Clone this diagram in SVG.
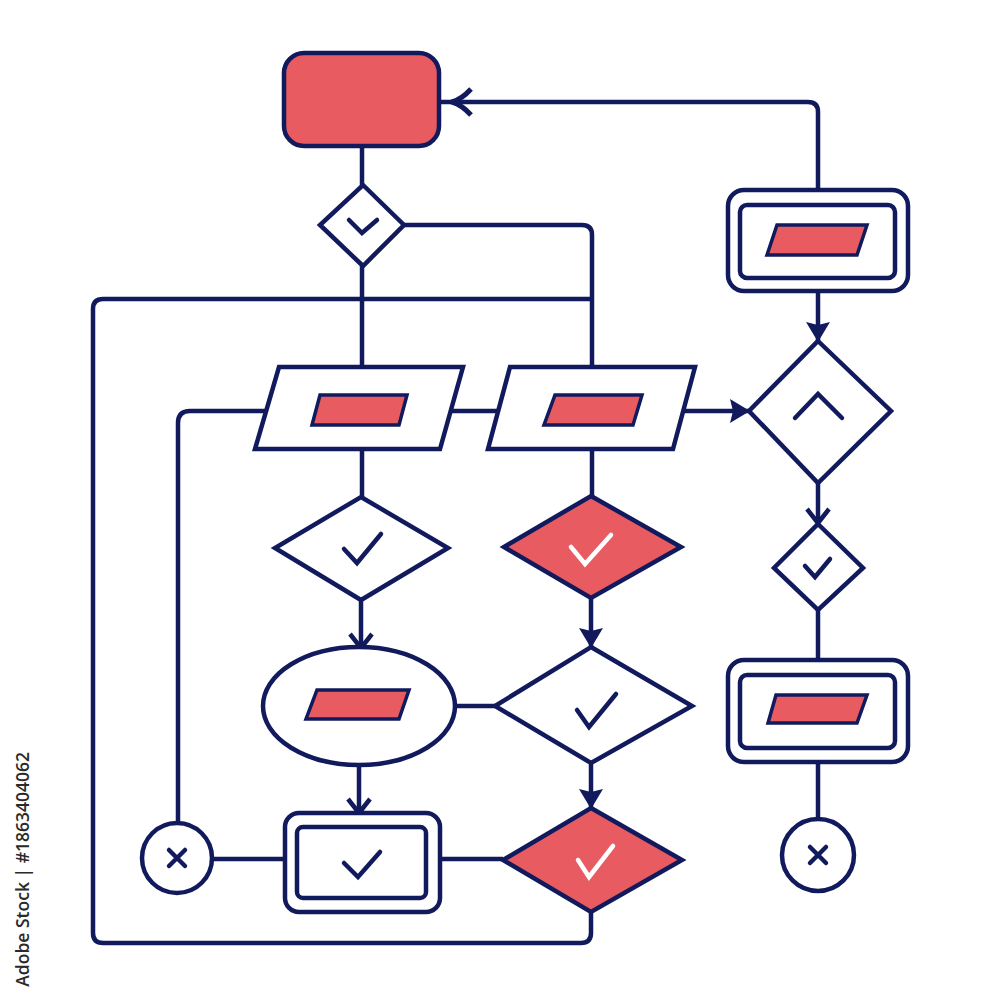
<svg xmlns="http://www.w3.org/2000/svg" width="1000" height="1000" viewBox="0 0 1000 1000">
<style>
.ln{fill:none;stroke:#111a5c;stroke-width:4.5;stroke-linecap:butt;stroke-linejoin:round}
.sh{fill:#ffffff;stroke:#111a5c;stroke-width:4.5;stroke-linejoin:miter}
.shr{fill:#e85c61;stroke:#111a5c;stroke-width:4.5;stroke-linejoin:miter}
.in{fill:#e85c61;stroke:#111a5c;stroke-width:3.5;stroke-linejoin:miter}
.ck{fill:none;stroke:#111a5c;stroke-width:4.5;stroke-linecap:round;stroke-linejoin:miter}
.ckw{fill:none;stroke:#ffffff;stroke-width:4.5;stroke-linecap:round;stroke-linejoin:miter}
.wm{font-family:"Open Sans","Noto Sans",sans-serif;font-size:17.5px;font-weight:600;fill:#2a2a2a}
</style>
<defs>
<marker id="tri" markerUnits="userSpaceOnUse" viewBox="0 0 20 24" markerWidth="20" markerHeight="24" refX="19" refY="12" orient="auto">
<path d="M0,0 L20,12 L0,24 L3,12 Z" fill="#111a5c"/>
</marker>
<marker id="chev" markerUnits="userSpaceOnUse" viewBox="0 0 22 28" markerWidth="22" markerHeight="28" refX="17" refY="14" orient="auto" overflow="visible">
<path d="M3,3 L17,14 L3,25" fill="none" stroke="#111a5c" stroke-width="4.5" stroke-linejoin="miter"/>
</marker>
</defs>
<rect width="1000" height="1000" fill="#ffffff"/>
<g id="connectors">
<path class="ln" d="M362,147 V185"/>
<path class="ln" d="M404,225 H582 Q592,225 592,235 V367"/>
<path class="ln" d="M362,266 V367"/>
<path class="ln" d="M591,912 V933 Q591,943 581,943 H103 Q93,943 93,933 V309 Q93,299 103,299 H592"/>
<path class="ln" d="M266,411 H190 Q178,411 178,423 V823"/>
<path class="ln" d="M451,411 H498"/>
<path class="ln" d="M683,411 H749" marker-end="url(#tri)"/>
<path class="ln" d="M362,449 V497"/>
<path class="ln" d="M592,449 V496"/>
<path class="ln" d="M361,600 V648" marker-end="url(#chev)"/>
<path class="ln" d="M591,598 V647" marker-end="url(#tri)"/>
<path class="ln" d="M455,706 H495"/>
<path class="ln" d="M359,765 V813" marker-end="url(#chev)"/>
<path class="ln" d="M591,763 V808" marker-end="url(#tri)"/>
<path class="ln" d="M212,859 H284"/>
<path class="ln" d="M440,859 H503"/>
<path class="ln" d="M818,189 V112 Q818,102 808,102 H440"/>
<path d="M471,89 Q462,99 452,102 Q462,105 471,115" fill="none" stroke="#111a5c" stroke-width="5" stroke-linejoin="round"/>
<path class="ln" d="M818,292 V341" marker-end="url(#tri)"/>
<path class="ln" d="M818,483 V523" marker-end="url(#chev)"/>
<path class="ln" d="M818,610 V659"/>
<path class="ln" d="M818,762 V819"/>
</g>
<g id="n-start">
<rect x="284" y="53" width="155" height="93" rx="20" class="shr"/>
</g>
<g id="n-d1">
<polygon class="sh" points="363,185 404,225 363,266 320,225"/>
<path class="ck" d="M349,220 L362,233 L377,220"/>
</g>
<g id="n-p1">
<polygon class="sh" points="279,367 463,367 440,449 255,449"/>
<polygon class="in" points="320,395 407,395 399,425 312,425"/>
</g>
<g id="n-p2">
<polygon class="sh" points="510,367 695,367 673,449 488,449"/>
<polygon class="in" points="555,395 642,395 633,425 544,425"/>
</g>
<g id="n-d3">
<polygon class="sh" points="361,497 448,548 361,600 275,548"/>
<path class="ck" d="M344,549 L357,563 L381,534"/>
</g>
<g id="n-d4">
<polygon class="shr" points="591,496 681,547 591,598 504,547"/>
<path class="ckw" d="M571,547 L585,564 L611,535"/>
</g>
<g id="n-e">
<ellipse class="sh" cx="359" cy="706" rx="96" ry="59"/>
<polygon class="in" points="317,690 409,690 399,719 306,719"/>
</g>
<g id="n-d5">
<polygon class="sh" points="591,647 692,706 591,763 495,706"/>
<path class="ck" d="M577,710 L589,727 L616,694"/>
</g>
<g id="n-r1">
<rect class="sh" x="285" y="813" width="155" height="99" rx="14"/>
<rect class="sh" x="297" y="827" width="129" height="71" rx="6"/>
<path class="ck" d="M344,863 L358,877 L380,852"/>
</g>
<g id="n-x1">
<circle class="sh" cx="177" cy="858" r="35"/>
<path class="ck" d="M169,850 L185,866 M185,850 L169,866"/>
</g>
<g id="n-d6">
<polygon class="shr" points="591,808 682,860 591,912 503,860"/>
<path class="ckw" d="M578,860 L589,877 L613,846"/>
</g>
<g id="n-r2">
<rect class="sh" x="728" y="190" width="180" height="101" rx="16"/>
<rect class="sh" x="740" y="205" width="155" height="73" rx="7"/>
<polygon class="in" points="777,225 867,225 857,255 767,255"/>
</g>
<g id="n-d7">
<polygon class="sh" points="818,341 891,411 818,483 749,411"/>
<path class="ck" d="M795,418 L818,394 L842,418" stroke-linecap="butt"/>
</g>
<g id="n-d8">
<polygon class="sh" points="818,524 863,568 818,610 774,568"/>
<path class="ck" d="M805,566 L815,577 L830,559"/>
</g>
<g id="n-r3">
<rect class="sh" x="728" y="660" width="180" height="102" rx="16"/>
<rect class="sh" x="740" y="675" width="155" height="73" rx="7"/>
<polygon class="in" points="776,695 867,695 857,723 768,723"/>
</g>
<g id="n-x2">
<circle class="sh" cx="818" cy="855" r="36"/>
<path class="ck" d="M810,847 L826,863 M826,847 L810,863"/>
</g>
<text class="wm" transform="translate(29,752) rotate(-90)" text-anchor="end">Adobe Stock | #1863404062</text>
</svg>
